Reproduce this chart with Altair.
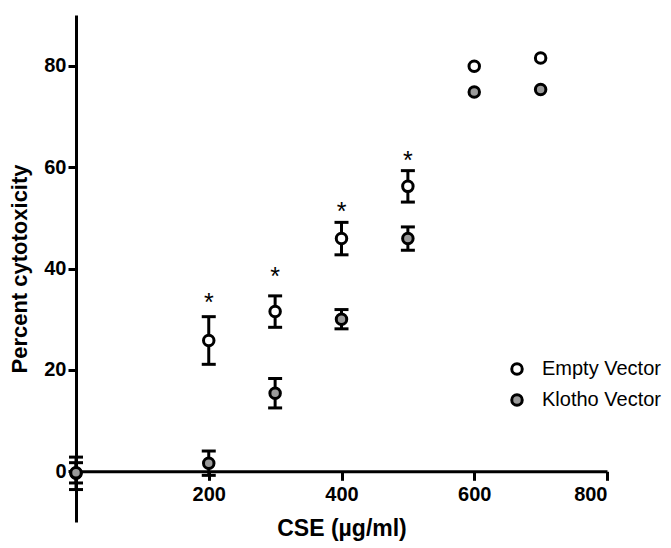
import altair as alt
import pandas as pd

# ---- data ----
cse = [0, 200, 300, 400, 500, 600, 700]
empty_mean = [-0.4, 25.8, 31.5, 45.9, 56.2, 79.9, 81.5]
empty_err = [3.2, 4.7, 3.1, 3.2, 3.1, 0.0, 0.0]
klotho_mean = [-0.3, 1.6, 15.4, 30.0, 45.9, 74.8, 75.3]
klotho_err = [2.0, 2.4, 2.9, 1.9, 2.3, 0.0, 0.0]
series_names = ["Empty Vector", "Klotho Vector"]
star_x = [200, 300, 400, 500]
star_y = [34.3, 39.6, 52.4, 62.3]
x_ticks = [200, 400, 600, 800]
y_ticks = [0, 20, 40, 60, 80]

rows = []
for name, means, errs in [(series_names[0], empty_mean, empty_err),
                          (series_names[1], klotho_mean, klotho_err)]:
    for x, m, e in zip(cse, means, errs):
        rows.append({"cse": x, "val": m, "lo": m - e, "hi": m + e,
                     "err": e, "series": name})
df = pd.DataFrame(rows)
df_err = df[df["err"] > 0]
stars = pd.DataFrame({"cse": star_x, "y": star_y})

FONT = "Liberation Sans"
xscale = alt.Scale(domain=[0, 800], nice=False, zero=False)
yscale = alt.Scale(domain=[-10, 90], nice=False, zero=False)

xenc = alt.X("cse:Q", scale=xscale,
             axis=alt.Axis(title="CSE (µg/ml)", values=x_ticks, offset=-50.7,
                           grid=False, domainColor="black", domainWidth=3,
                           tickColor="black", tickWidth=3, tickSize=9,
                           labelFont=FONT, labelFontSize=20, labelFontWeight="bold",
                           labelColor="black", labelPadding=4,
                           titleFont=FONT, titleFontSize=23, titleFontWeight="bold",
                           titleColor="black", titlePadding=13))
yaxis = alt.Axis(title="Percent cytotoxicity", values=y_ticks, grid=False,
                 domainColor="black", domainWidth=3, tickColor="black",
                 tickWidth=3, tickSize=8, labelFont=FONT, labelFontSize=20,
                 labelFontWeight="bold", labelColor="black", labelPadding=2,
                 titleFont=FONT, titleFontSize=22, titleFontWeight="bold",
                 titleColor="black", titlePadding=12)

base = alt.Chart(df_err)
rules = base.mark_rule(color="black", strokeWidth=3).encode(
    x=xenc, y=alt.Y("lo:Q", scale=yscale, axis=yaxis), y2="hi:Q")
cap_hi = base.mark_tick(color="black", thickness=3, size=14, orient="horizontal",
                        opacity=1).encode(x="cse:Q", y="hi:Q")
cap_lo = base.mark_tick(color="black", thickness=3, size=14, orient="horizontal",
                        opacity=1).encode(x="cse:Q", y="lo:Q")

points = alt.Chart(df).mark_point(filled=False, size=110, strokeWidth=3,
                                  stroke="black", opacity=1).encode(
    x="cse:Q", y=alt.Y("val:Q"),
    fill=alt.Fill("series:N",
                  scale=alt.Scale(domain=series_names, range=["white", "#9a9a9a"]),
                  legend=alt.Legend(title=None, orient="none", legendX=431, legendY=344,
                                    symbolType="circle", symbolSize=110,
                                    symbolStrokeColor="black", symbolStrokeWidth=3,
                                    symbolFillColor="white",
                                    labelFont=FONT, labelFontSize=20, labelColor="black",
                                    labelOffset=15, rowPadding=7, padding=0)))

star_text = alt.Chart(stars).mark_text(text="*", font=FONT, fontSize=25,
                                       color="black", baseline="alphabetic",
                                       dy=14).encode(x="cse:Q", y="y:Q")

chart = alt.layer(rules, cap_hi, cap_lo, points, star_text).properties(
    width=531, height=507,
    background="white",
    autosize=alt.AutoSizeParams(type="none"),
    padding={"left": 68, "top": 7, "right": 56, "bottom": 22},
).configure_view(strokeWidth=0, stroke="transparent")

chart.save("out.html", embed_options={"renderer": "svg", "actions": False})
